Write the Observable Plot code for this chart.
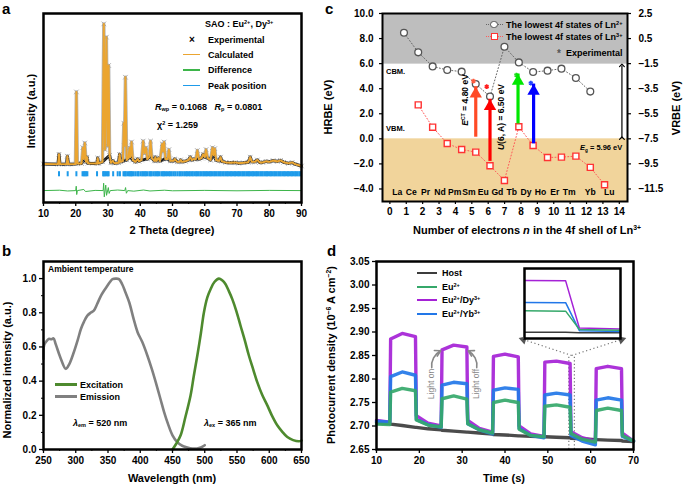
<!DOCTYPE html>
<html><head><meta charset="utf-8">
<script src="https://cdn.jsdelivr.net/npm/d3@7"></script>
<script src="https://cdn.jsdelivr.net/npm/@observablehq/plot@0.6"></script>
<style>
body{margin:0;background:#fff;}
#root{position:relative;width:685px;height:488px;overflow:hidden;font-family:"Liberation Sans",Arial,sans-serif;color:#000;background:#fff;}
.t{position:absolute;white-space:nowrap;line-height:1;font-weight:bold;}
.t sup{font-size:0.62em;vertical-align:0.5em;line-height:0;}
.t sub{font-size:0.62em;vertical-align:-0.3em;line-height:0;}
.sw{position:absolute;}
</style></head>
<body><div id="root"></div>
<script>
// ---------------- DATA ----------------
// Panel a: XRD Rietveld refinement
const xrdTheta = [10,14.5,14.8,15.1,17.2,17.4,17.7,19.9,20.2,20.5,21.8,22.2,22.5,22.8,23.2,23.5,23.8,26.6,26.8,27.1,28.3,28.7,29.05,29.5,29.85,30.2,30.5,30.9,31.5,32.0,33.3,33.6,33.9,34.6,34.9,35.1,35.4,35.8,36.3,36.7,36.9,37.3,37.7,38.5,39.2,39.6,40.4,40.9,41.3,41.8,42.2,42.8,43.2,43.6,44.4,44.7,45.0,45.6,46.1,46.8,47.1,47.4,47.8,48.5,48.9,49.3,50.3,50.7,51.5,52.2,52.5,53,54,55,55.5,56,56.5,57.2,57.7,58.2,59.0,59.5,60.0,60.4,60.9,61.8,62.4,62.7,63.1,63.5,64.4,64.9,65.3,66.5,68,69.5,70.5,72,73.5,74.1,74.6,75.5,76.3,77,78,79,80,81.2,82.5,83.5,84.5,86,87.1,88,90];
const xrdCalc  = [20.4,20.3,25.5,20.3,20.3,24.5,20.3,20.4,58.5,20.6,20.6,29,23,31.5,21.5,24,20.8,20.6,23.5,20.7,21.5,94.5,28,87.5,30,72.5,25,21,22,20.8,21,25.5,21.5,22,42,30,66.3,22.5,23.5,29,24,32,22.5,21.5,23,21.8,22.5,32.5,26,29,23,24,32.5,23.5,22,24,22,23.5,22,31,27,32,23,23,28,22,22,23,21.5,21.5,22.5,21.5,21.8,22.5,24,22.5,23,22.8,27.5,23,23.5,25.5,24,28,23.5,22.5,29,25,28.5,22.5,22,24,21.8,21.2,21,21.2,20.8,21,21.3,24,21.5,21.5,22.5,21.2,21.2,21.8,21.5,22.2,21.7,22.3,21.3,20.7,21.2,20.3,19.3];
const diffTheta = [10,15,17.5,20.0,20.15,20.3,20.5,22.5,23,26,28.5,28.65,28.85,29.3,29.55,30.1,30.35,30.7,33,35.2,35.45,35.7,36.1,38,41,43,47.5,50,60,70,80,90];
const diffVal   = [6.3,6.5,6.1,6.3,8.6,4.2,6.3,6.9,5.8,6.4,6.3,10.2,3.0,9.2,3.8,7.9,4.8,6.3,6.6,6.3,7.9,4.9,6.3,6.0,6.6,6.1,6.5,6.2,6.4,6.2,6.4,6.3];
const peakPos = [14.8,17.5,20.2,22.1,22.5,22.8,23.2,23.6,26.6,28.5,28.7,29.1,29.5,29.9,30.2,31.6,33.0,33.7,34.8,35.2,35.5,36.0,36.5,36.9,37.2,37.5,38.0,38.6,39.2,39.5,40.1,40.6,41.0,41.4,41.8,42.3,42.9,43.2,43.6,44.2,44.7,45.1,45.5,46.0,46.6,47.0,47.4,47.8,48.3,48.9,49.3,49.8,50.4,50.9,51.5,52.1,52.5,53.0,53.6,54.1,54.5,55.0,55.4,55.9,56.3,56.8,57.3,57.7,58.1,58.6,59.0,59.5,59.9,60.3,60.7,61.2,61.6,62.0,62.4,62.9,63.3,63.7,64.2,64.6,65.0,65.5,65.9,66.4,66.8,67.2,67.7,68.1,68.5,69.0,69.4,69.8,70.3,70.7,71.1,71.6,72.0,72.4,72.9,73.3,73.7,74.1,74.6,75.0,75.4,75.9,76.3,76.7,77.2,77.6,78.0,78.5,78.9,79.3,79.7,80.2,80.6,81.0,81.5,81.9,82.3,82.8,83.2,83.6,84.1,84.5,84.9,85.4,85.8,86.2,86.7,87.1,87.5,88.0,88.4,88.8,89.3,89.7];

// Panel b: normalized spectra
const grayNm  = [250,251,254,258,262,265.5,269,276,284.5,290,297,303,308,313,318,323,328,333,339,344,349,353,357,362,367,372,377,383,390,396,403,411,418,424,431,437,443,450,457,465,473,481,488,494,500];
const grayVal = [0.53,0.61,0.63,0.647,0.645,0.65,0.616,0.54,0.472,0.50,0.569,0.64,0.705,0.75,0.783,0.80,0.812,0.85,0.899,0.93,0.958,0.98,0.997,1.0,0.997,0.967,0.92,0.86,0.76,0.685,0.63,0.55,0.47,0.394,0.30,0.219,0.15,0.083,0.045,0.022,0.012,0.006,0.006,0.012,0.025];
const greenNm  = [450,456,462.6,470,478,483,488.5,494,498.7,504,509,515,522,527,532.3,537,542.7,549,555.5,562,568.4,575,581.4,589,597,604,612.4,620,628,637,646,650];
const greenVal = [0.0,0.035,0.083,0.19,0.316,0.43,0.55,0.68,0.802,0.89,0.938,0.98,1.0,0.99,0.967,0.93,0.88,0.81,0.724,0.64,0.55,0.47,0.394,0.32,0.258,0.2,0.142,0.105,0.073,0.055,0.048,0.052];

// Panel c: energy levels
const elements   = ["La","Ce","Pr","Nd","Pm","Sm","Eu","Gd","Tb","Dy","Ho","Er","Tm","Yb","Lu"];
const elemLabelX = [0.45,1.3,2.18,3.06,3.95,4.83,5.7,6.56,7.44,8.31,9.19,10.07,10.94,12.23,13.39];
const ln2X = [0.86,1.73,2.61,3.5,4.38,5.24,6.11,6.99,7.87,8.74,9.62,10.47,11.35,12.23];
const ln2E = [8.46,6.9,5.78,5.49,5.36,4.38,3.37,7.35,6.1,5.33,5.44,5.6,4.85,3.77];
const ln3X = [1.73,2.61,3.5,4.38,5.24,6.11,6.99,7.87,8.74,9.62,10.47,11.35,12.23,13.1];
const ln3E = [2.71,0.93,-0.37,-0.85,-1.06,-2.15,-3.32,0.96,-0.53,-1.49,-1.46,-1.38,-2.28,-3.66];
const expX = [5.1,5.91,7.72,8.6];
const expE = [4.61,4.16,5.09,4.45];
const expColor = ["#FF5A3C","#FF2020","#22DD22","#2244FF"];
const arrX = [5.24,6.11,7.82,8.77];
const arrFrom = [0.13,-1.8,1.19,-0.4];
const arrTo = [4.16,3.16,5.17,4.37];
const arrColor = ["#FF4A26","#FF0000","#00E800","#0000FF"];
const EG = 5.96;          // band gap (CBM above VBM=0)
const VRBE_OFFSET = -7.5; // VRBE = HRBE - 7.5

// Panel d: photocurrent
const tPts = [10,13.1,13.3,16,19.1,19.3,22,25.1,25.3,28,31.1,31.3,34,37.1,37.3,40,43.1,43.3,46,49.1,49.3,52,55.2,55.4,58,61.1,61.3,64,67.2,67.4,70];
const hostV = [2.707,2.705,2.704,2.701,2.697,2.697,2.694,2.692,2.691,2.689,2.687,2.687,2.685,2.683,2.682,2.681,2.679,2.679,2.678,2.677,2.677,2.676,2.675,2.674,2.673,2.671,2.671,2.670,2.669,2.668,2.667];
const eu2V  = [2.704,2.703,2.772,2.780,2.775,2.713,2.702,2.698,2.758,2.764,2.757,2.705,2.692,2.685,2.750,2.755,2.750,2.693,2.680,2.677,2.742,2.745,2.740,2.684,2.672,2.666,2.733,2.738,2.733,2.680,2.668];
const dyV   = [2.712,2.708,2.885,2.897,2.890,2.722,2.706,2.700,2.862,2.872,2.868,2.712,2.695,2.687,2.848,2.853,2.847,2.700,2.683,2.678,2.836,2.838,2.833,2.688,2.675,2.668,2.822,2.827,2.822,2.685,2.668];
const ybV   = [2.710,2.708,2.805,2.815,2.808,2.714,2.703,2.697,2.787,2.793,2.790,2.705,2.692,2.683,2.776,2.781,2.778,2.695,2.680,2.675,2.766,2.770,2.766,2.680,2.668,2.660,2.755,2.760,2.755,2.678,2.668];
const seriesNames = ["Host","Eu2+","Eu2+/Dy3+","Eu2+/Yb3+"];
const seriesColors = ["#3c3c3c","#35A86A","#A522D6","#2277E8"];

// ---------------- HELPERS ----------------
const root = document.getElementById("root");
const STYLE = {fontFamily:'"Liberation Sans", Arial, sans-serif', fontSize:"10px", fontWeight:"bold", background:"transparent", overflow:"visible", color:"black"};
function place(el, left, top){ el.style.position="absolute"; el.style.left=left+"px"; el.style.top=top+"px"; root.appendChild(el); return el; }
function T(html, x, y, o={}){
  const d=document.createElement("div"); d.className="t"; d.innerHTML=html;
  d.style.left=x+"px"; d.style.top=y+"px"; d.style.fontSize=(o.size||10)+"px";
  if(o.weight) d.style.fontWeight=o.weight; if(o.color) d.style.color=o.color;
  const ax = o.ax ?? 0;
  d.style.transform=`translate(${-ax*100}%,-50%)`+(o.rot?` rotate(${o.rot}deg)`:"");
  root.appendChild(d); return d;
}
function SW(x1,x2,y,color,h=2,dotted=false){
  const d=document.createElement("div"); d.className="sw";
  d.style.left=x1+"px"; d.style.width=(x2-x1)+"px";
  if(dotted){ d.style.top=(y-0.5)+"px"; d.style.borderTop=`1px dotted ${color}`; d.style.height="0px"; }
  else { d.style.top=(y-h/2)+"px"; d.style.height=h+"px"; d.style.background=color; }
  root.appendChild(d); return d;
}
function MK(x,y,size,css){ const d=document.createElement("div"); d.className="sw"; d.style.left=(x-size/2)+"px"; d.style.top=(y-size/2)+"px"; d.style.width=size+"px"; d.style.height=size+"px"; d.style.boxSizing="border-box"; Object.assign(d.style,css); root.appendChild(d); return d; }

// ---------------- PANEL A ----------------
const xrd = xrdTheta.map((t,i)=>({t, v:xrdCalc[i]}));
const diff = diffTheta.map((t,i)=>({t, v:diffVal[i]}));
const PEAK_ROW = [13.6, 16.3];
const pa = Plot.plot({
  width:342, height:240, marginLeft:43, marginRight:41, marginTop:13, marginBottom:38,
  style:STYLE,
  x:{domain:[10,90]}, y:{domain:[0,100], axis:null},
  marks:[
    Plot.ruleX(peakPos,{x:d=>d, y1:PEAK_ROW[0], y2:PEAK_ROW[1], stroke:"#1E9BEA", strokeWidth:2}),
    Plot.line(diff,{x:"t", y:"v", stroke:"#3DB54A", strokeWidth:1}),
    Plot.line(xrd,{x:"t", y:"v", stroke:"#b4b4b4", strokeWidth:3.4, strokeLinejoin:"round"}),
    Plot.line(xrd.filter(d=>d.v<26),{x:"t", y:"v", stroke:"#1e1e1e", strokeWidth:3, strokeLinejoin:"round"}),
    Plot.dot(xrd,{x:"t", y:"v", symbol:"times", r:2.2, stroke:"#999", strokeWidth:0.8}),
    Plot.line(xrd,{x:"t", y:"v", stroke:"#EBA530", strokeWidth:1.9}),
    Plot.axisX({ticks:d3.range(10,91,10), tickSize:4, tickPadding:3, label:null, strokeWidth:1.3}),
    Plot.axisX({ticks:d3.range(15,90,10), tickSize:2, tickFormat:()=>"", label:null}),
    Plot.frame({stroke:"black", strokeWidth:2.5})
  ]
});
place(pa,0,0);

// ---------------- PANEL C ----------------
const cXd = [-0.45,14.5];
const ln2 = ln2X.map((x,i)=>({x, e:ln2E[i]}));
const ln3 = ln3X.map((x,i)=>({x, e:ln3E[i]}));
const exps = expX.map((x,i)=>({x, e:expE[i], c:expColor[i]}));
const arrs = arrX.map((x,i)=>({x, a:arrFrom[i], b:arrTo[i], c:arrColor[i]}));
const elems = elements.map((n,i)=>({n, x:elemLabelX[i]}));
const HEAD_R = 4.6;
const HEAD_DY = Math.sqrt(Math.PI*HEAD_R*HEAD_R/(Math.sqrt(3)/4))*Math.sqrt(3)/2*2/3;
const pc = Plot.plot({
  width:365, height:240, marginLeft:62, marginRight:58, marginTop:13, marginBottom:39,
  style:STYLE,
  x:{domain:cXd}, y:{domain:[-5,10]},
  marks:[
    Plot.rect([{y1:EG,y2:10},{y1:-5,y2:0}],{x1:cXd[0], x2:cXd[1], y1:"y1", y2:"y2", fill:(d,i)=>i===0?"#BEBEBE":"#F1D49B"}),
    Plot.line(ln2,{x:"x", y:"e", stroke:"#666", strokeWidth:1, strokeDasharray:"1,2.2"}),
    Plot.line(ln3,{x:"x", y:"e", stroke:"#FF5A5A", strokeWidth:1, strokeDasharray:"1,2.2"}),
    Plot.dot(ln2,{x:"x", y:"e", r:3.4, stroke:"#555", fill:"white", strokeWidth:1.3}),
    Plot.dot(ln3,{x:"x", y:"e", symbol:"square", r:3.4, stroke:"#FF3333", fill:"white", strokeWidth:1.4}),
    Plot.dot(exps,{x:"x", y:"e", symbol:"asterisk", r:2.2, stroke:"c", strokeWidth:1.6}),
    Plot.ruleX(arrs,{x:"x", y1:"a", y2:"b", stroke:"c", strokeWidth:3.2}),
    Plot.dot(arrs,{x:"x", y:"b", symbol:"triangle", r:HEAD_R, fill:"c", dy:HEAD_DY}),
    Plot.link([{y1:0.05, y2:EG-0.1}],{x:14.16, y1:"y1", y2:"y2", stroke:"black", strokeWidth:1.2, markerStart:"arrow", markerEnd:"arrow"}),
    Plot.text(elems,{x:"x", y:-4.3, text:"n", fontSize:8.6, fontWeight:"bold"}),
    Plot.axisX({ticks:d3.range(0,15), tickSize:3, tickPadding:3, label:null, strokeWidth:1.2}),
    Plot.axisY({ticks:d3.range(-4,11,2), tickSize:3, tickPadding:6, tickFormat:d3.format(".1f"), label:null, strokeWidth:1.2}),
    Plot.axisY({anchor:"right", ticks:d3.range(-4,11,2), tickSize:3, tickPadding:8, tickFormat:d=>d3.format(".1f")(d+VRBE_OFFSET), label:null, strokeWidth:1.2}),
    Plot.frame({stroke:"black", strokeWidth:2})
  ]
});
place(pc,320,0);

// ---------------- PANEL B ----------------
const gray = grayNm.map((x,i)=>({x, v:grayVal[i]}));
const green = greenNm.map((x,i)=>({x, v:greenVal[i]}));
const pb = Plot.plot({
  width:342, height:248, marginLeft:43, marginRight:41, marginTop:21, marginBottom:39,
  style:STYLE,
  x:{domain:[250,650]}, y:{domain:[0,1.1]},
  marks:[
    Plot.line(gray,{x:"x", y:"v", stroke:"#808080", strokeWidth:2.6, curve:"catmull-rom"}),
    Plot.line(green,{x:"x", y:"v", stroke:"#4E8A2E", strokeWidth:2.6, curve:"catmull-rom"}),
    Plot.axisX({ticks:d3.range(250,651,50), tickSize:4, tickPadding:3, label:null, strokeWidth:1.3}),
    Plot.axisX({ticks:d3.range(275,650,50), tickSize:2, tickFormat:()=>"", label:null}),
    Plot.axisY({ticks:d3.range(0,1.01,0.2), tickSize:4, tickPadding:3, tickFormat:d3.format(".1f"), label:null, strokeWidth:1.3}),
    Plot.axisY({ticks:[0.1,0.3,0.5,0.7,0.9], tickSize:2, tickFormat:()=>"", label:null}),
    Plot.frame({stroke:"black", strokeWidth:2.5})
  ]
});
place(pb,0,240);

// ---------------- PANEL D ----------------
const seriesVals = [hostV, eu2V, dyV, ybV];
const drawOrder = [0,2,3,1];
const INSET_T = [44.3,67.2], INSET_V = [2.884,3.037];
const ZOOM_T = [54.9,56.2], ZOOM_V = [2.65,2.85], ZOOM_APEX = 55.55;
const pdMarks = [
  Plot.ruleX(ZOOM_T,{x:d=>d, y1:ZOOM_V[0], y2:ZOOM_V[1], stroke:"#777", strokeWidth:1.2, strokeDasharray:"1.2,2.3"}),
  Plot.link([{x2:INSET_T[0]},{x2:INSET_T[1]}],{x1:ZOOM_APEX, y1:ZOOM_V[1], x2:"x2", y2:INSET_V[0], stroke:"#777", strokeWidth:1.2, strokeDasharray:"1.2,2.6"}),
  Plot.dot([{x:INSET_T[0], r:-72},{x:INSET_T[1], r:72}],{x:"x", y:INSET_V[0], symbol:"triangle", r:3.2, fill:"#555", rotate:"r"})
];
for (const k of drawOrder){
  const d = tPts.map((t,i)=>({t, v:seriesVals[k][i]}));
  pdMarks.push(Plot.line(d,{x:"t", y:"v", stroke:seriesColors[k], strokeWidth:3.4, strokeOpacity:0.92, strokeLinejoin:"round"}));
}
pdMarks.push(
  Plot.arrow([{x1:22.9,y1:2.824,x2:25.0,y2:2.860}],{x1:"x1",y1:"y1",x2:"x2",y2:"y2", bend:35, stroke:"#888", strokeWidth:1.6, headLength:6}),
  Plot.arrow([{x1:33.4,y1:2.824,x2:31.4,y2:2.860}],{x1:"x1",y1:"y1",x2:"x2",y2:"y2", bend:-35, stroke:"#888", strokeWidth:1.6, headLength:6}),
  Plot.axisX({ticks:d3.range(10,71,10), tickSize:4, tickPadding:3, label:null, strokeWidth:1.3}),
  Plot.axisY({ticks:d3.range(2.65,3.051,0.05), tickSize:4, tickPadding:3, tickFormat:d3.format(".2f"), label:null, strokeWidth:1.3}),
  Plot.frame({stroke:"black", strokeWidth:2.5})
);
const pd = Plot.plot({
  width:365, height:248, marginLeft:56, marginRight:52, marginTop:21, marginBottom:39,
  style:STYLE, x:{domain:[10,70]}, y:{domain:[2.65,3.05]}, marks:pdMarks
});
place(pd,320,240);
// inset (zoom of the 4th light-off edge)
const sx = pd.scale("x"), sy = pd.scale("y");
const ix0 = 320+sx.apply(INSET_T[0]), ix1 = 320+sx.apply(INSET_T[1]);
const iy0 = 240+sy.apply(INSET_V[1]), iy1 = 240+sy.apply(INSET_V[0]);
const insetMarks = [];
for (const k of drawOrder){
  const d = tPts.map((t,i)=>({t, v:seriesVals[k][i]}));
  insetMarks.push(Plot.line(d,{x:"t", y:"v", stroke:seriesColors[k], strokeWidth:1.5, clip:true}));
}
insetMarks.push(Plot.frame({stroke:"black", strokeWidth:2.5}));
const pin = Plot.plot({
  width:Math.round(ix1-ix0), height:Math.round(iy1-iy0), margin:1,
  style:{...STYLE, background:"white"},
  x:{domain:[54.6,56.0], axis:null}, y:{domain:[2.656,2.871], axis:null},
  marks:insetMarks
});
place(pin, Math.round(ix0), Math.round(iy0));

// ---------------- TEXT / LEGENDS ----------------
T("a",2,8,{size:15}); T("c",325,8,{size:15}); T("b",2,250,{size:15}); T("d",327,250,{size:15});

// panel a
T("Intensity (a.u.)",31,111,{size:11,ax:0.5,rot:-90});
T("2 Theta (degree)",172,230,{size:11,ax:0.5});
T("SAO : Eu<sup>2+</sup>, Dy<sup>3+</sup>",205,24,{size:9});
T("×",189,40,{size:10});
T("Experimental",208,40,{size:9});
SW(183,200,54.5,"#EBA530",1.6); T("Calculated",208,54.5,{size:9});
SW(183,200,70,"#3DB54A",1.6); T("Difference",208,70,{size:9});
SW(183,200,85.5,"#1E9BEA",1.6); T("Peak position",208,85.5,{size:9});
T("<i>R</i><sub>wp</sub> = 0.1068&nbsp;&nbsp;&nbsp;<i>R</i><sub>p</sub> = 0.0801",155,107,{size:9});
T("χ<sup>2</sup> = 1.259",157,125,{size:9});

// panel c
T("HRBE (eV)",328,107,{size:11,ax:0.5,rot:-90});
T("VRBE (eV)",676,108,{size:11,ax:0.5,rot:-90});
T("Number of electrons <i>n</i> in the 4f shell of Ln<sup>3+</sup>",527,230,{size:11,ax:0.5});
T("CBM.",386,72,{size:7.5}); T("VBM.",386,128.5,{size:7.5});
T("<i>E</i><sub>g</sub> = 5.96 eV",580,148,{size:7.5});
T("<i>E</i><sup>CT</sup> = 4.80 eV",465,100,{size:8.5,ax:0.5,rot:-90});
T("<i>U</i>(6, A) = 6.50 eV",501,117,{size:8.5,ax:0.5,rot:-90});
SW(486,503,24.3,"#666",1,true); MK(494,24.3,7.5,{border:"1.4px solid #555",borderRadius:"50%",background:"white"});
T("The lowest 4f states of Ln<sup>2+</sup>",506,24.5,{size:9});
SW(486,503,36,"#FF5A5A",1,true); MK(494,36,7,{border:"1.5px solid #FF3333",background:"white"});
T("The lowest 4f states of Ln<sup>3+</sup>",506,36.5,{size:9});
T("*",557,54,{size:10,color:"#555"});
T("Experimental",566,52.7,{size:9});

// panel b
T("Normalized intensity (a.u.)",7,370,{size:11,ax:0.5,rot:-90});
T("Wavelength (nm)",172,478,{size:11,ax:0.5});
T("Ambient temperature",48,268.5,{size:8.5});
SW(55,77,384.5,"#4E8A2E",2.6); T("Excitation",80,384.5,{size:9});
SW(55,77,396.5,"#808080",2.6); T("Emission",80,396.5,{size:9});
T("<i>λ</i><sub>em</sub> = 520 nm",73,422.7,{size:9});
T("<i>λ</i><sub>ex</sub> = 365 nm",204,422.7,{size:9});

// panel d
T("Photocurrent density (10<sup>−6</sup> A cm<sup>−2</sup>)",331,355,{size:11,ax:0.5,rot:-90});
T("Time (s)",504,478,{size:11,ax:0.5});
const legY = [273.3,286.7,300,314];
const legLabels = ["Host","Eu<sup>2+</sup>","Eu<sup>2+</sup>/Dy<sup>3+</sup>","Eu<sup>2+</sup>/Yb<sup>3+</sup>"];
legLabels.forEach((l,i)=>{ SW(417,437,legY[i],seriesColors[i],1.8); T(l,442,legY[i],{size:9}); });
T("Light on",430.5,384,{size:8.5,ax:0.5,rot:-90,weight:"normal",color:"#888"});
T("Light off",476,384,{size:8.5,ax:0.5,rot:-90,weight:"normal",color:"#888"});
</script>
</body></html>
